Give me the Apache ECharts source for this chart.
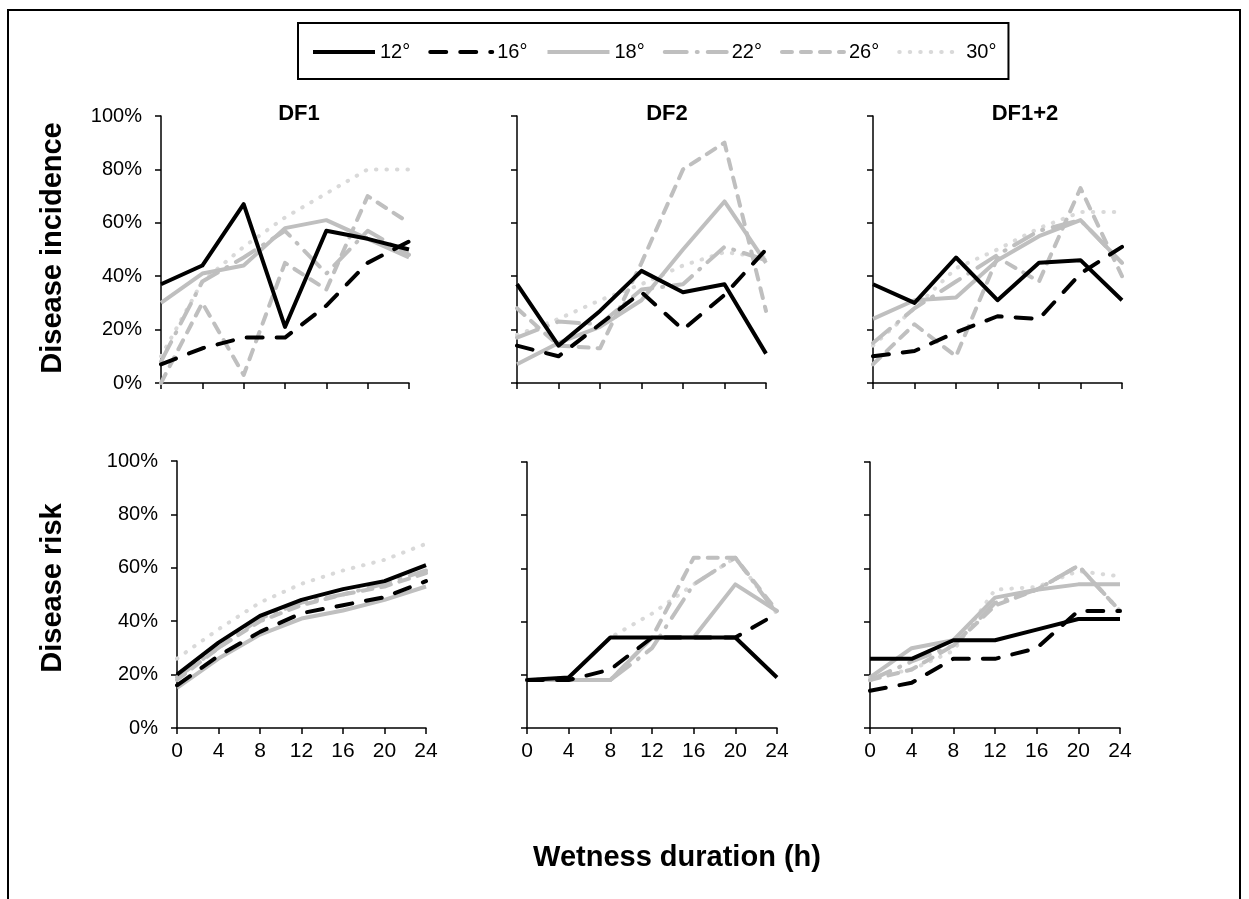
<!DOCTYPE html>
<html>
<head>
<meta charset="utf-8">
<script src="https://cdn.jsdelivr.net/npm/echarts@6/dist/echarts.min.js"></script>
<style>
html,body{margin:0;padding:0;background:#fff;}
#chart{width:1249px;height:899px;}
</style>
</head>
<body>
<div id="chart"></div>
<script>
// Wetness duration (h)
const hours = [0, 4, 8, 12, 16, 20, 24];
const temps = ['12°', '16°', '18°', '22°', '26°', '30°'];
const yTicks = [0, 20, 40, 60, 80, 100];
const panelTitles = ['DF1', 'DF2', 'DF1+2'];

// Disease incidence (%)
const incDF1_12 = [37, 44, 67, 21, 57, 54, 50];
const incDF1_16 = [7, 13, 17, 17, 29, 45, 53];
const incDF1_18 = [30, 41, 44, 58, 61, 54, 47];
const incDF1_22 = [8, 38, 47, 57, 41, 57, 48];
const incDF1_26 = [0, 30, 3, 45, 35, 70, 60];
const incDF1_30 = [10, 38, 51, 62, 71, 80, 80];

const incDF2_12 = [37, 14, 27, 42, 34, 37, 11];
const incDF2_16 = [14, 10, 22, 34, 20, 33, 50];
const incDF2_18 = [7, 15, 21, 31, 50, 68, 45];
const incDF2_22 = [17, 23, 22, 35, 37, 51, 46];
const incDF2_26 = [28, 14, 13, 45, 80, 90, 27];
const incDF2_30 = [18, 24, 31, 37, 44, 49, 47];

const incDF12_12 = [37, 30, 47, 31, 45, 46, 31];
const incDF12_16 = [10, 12, 19, 25, 24, 41, 51];
const incDF12_18 = [24, 31, 32, 46, 55, 61, 45];
const incDF12_22 = [15, 28, 38, 48, 57, 61, 45];
const incDF12_26 = [7, 22, 10, 47, 38, 73, 40];
const incDF12_30 = [14, 28, 43, 50, 58, 64, 64];

// Disease risk (%)
const riskDF1_12 = [20, 32, 42, 48, 52, 55, 61];
const riskDF1_16 = [16, 27, 36, 43, 46, 49, 55];
const riskDF1_18 = [15, 26, 35, 41, 44, 48, 53];
const riskDF1_22 = [19, 30, 41, 47, 50, 54, 59];
const riskDF1_26 = [18, 30, 40, 46, 50, 53, 58];
const riskDF1_30 = [26, 37, 47, 54, 59, 63, 69];

const riskDF2_12 = [18, 19, 34, 34, 34, 34, 19];
const riskDF2_16 = [18, 18, 22, 34, 34, 34, 43];
const riskDF2_18 = [18, 18, 18, 34, 34, 54, 44];
const riskDF2_22 = [18, 18, 18, 30, 54, 64, 43];
const riskDF2_26 = [18, 18, 18, 34, 64, 64, 44];
const riskDF2_30 = [18, 19, 34, 43, 54, 64, 43];

const riskDF12_12 = [26, 26, 33, 33, 37, 41, 41];
const riskDF12_16 = [14, 17, 26, 26, 30, 44, 44];
const riskDF12_18 = [19, 30, 33, 49, 52, 54, 54];
const riskDF12_22 = [18, 25, 31, 47, 52, 61, 44];
const riskDF12_26 = [18, 22, 31, 46, 52, 61, 44];
const riskDF12_30 = [19, 22, 29, 52, 53, 59, 57];

const panels = [
  [incDF1_12, incDF1_16, incDF1_18, incDF1_22, incDF1_26, incDF1_30],
  [incDF2_12, incDF2_16, incDF2_18, incDF2_22, incDF2_26, incDF2_30],
  [incDF12_12, incDF12_16, incDF12_18, incDF12_22, incDF12_26, incDF12_30],
  [riskDF1_12, riskDF1_16, riskDF1_18, riskDF1_22, riskDF1_26, riskDF1_30],
  [riskDF2_12, riskDF2_16, riskDF2_18, riskDF2_22, riskDF2_26, riskDF2_30],
  [riskDF12_12, riskDF12_16, riskDF12_18, riskDF12_22, riskDF12_26, riskDF12_30]
];

const FONT = '"Liberation Sans", Arial, Helvetica, sans-serif';
const styles = [
  {color: '#000000', type: 'solid', cap: 'butt'},
  {color: '#000000', type: [16, 14], cap: 'round'},
  {color: '#BFBFBF', type: 'solid', cap: 'butt'},
  {color: '#BFBFBF', type: [22, 10, 1, 10], cap: 'round'},
  {color: '#BFBFBF', type: [10, 9], cap: 'round'},
  {color: '#D9D9D9', type: [0.5, 10], cap: 'round'}
];

const grids = [
  {left: 161, top: 116, width: 248, height: 267},
  {left: 517, top: 116, width: 249, height: 267},
  {left: 873, top: 116, width: 249, height: 267},
  {left: 177, top: 461, width: 249, height: 267},
  {left: 527, top: 462, width: 250, height: 266},
  {left: 870, top: 462, width: 250, height: 266}
];

const axisCommon = {
  axisLine: {lineStyle: {color: '#000', width: 1.5}},
  axisTick: {lineStyle: {color: '#000', width: 1.5}, length: 6, inside: false},
  splitLine: {show: false}
};

const xAxes = grids.map((g, i) => Object.assign({
  type: 'value', gridIndex: i, min: 0, max: 24, interval: 4,
  axisLabel: {show: i >= 3, fontSize: 21, color: '#000', fontFamily: FONT, margin: 13}
}, axisCommon));

const yAxes = grids.map((g, i) => Object.assign({
  type: 'value', gridIndex: i, min: 0, max: 100, interval: 20,
  axisLabel: {show: i === 0 || i === 3, fontSize: 20, color: '#000', fontFamily: FONT, margin: 19, formatter: '{value}%'}
}, axisCommon));

const series = [];
panels.forEach((pdata, pi) => {
  pdata.forEach((vals, si) => {
    const st = styles[si];
    series.push({
      type: 'line', name: temps[si], xAxisIndex: pi, yAxisIndex: pi,
      symbol: 'none', animation: false,
      data: hours.map((h, k) => [h, vals[k]]),
      lineStyle: {color: st.color, width: 4, type: st.type, cap: st.cap, join: 'round'},
      itemStyle: {color: st.color},
      z: 2 + (5 - si) * 0.01
    });
  });
});

const titles = [
  {text: panelTitles[0], left: 299, top: 103},
  {text: panelTitles[1], left: 667, top: 103},
  {text: panelTitles[2], left: 1025, top: 103}
].map(t => ({
  text: t.text, left: t.left, top: t.top, textAlign: 'center', padding: 0,
  textStyle: {fontSize: 22, fontWeight: 'bold', color: '#000', fontFamily: FONT}
}));

const option = {
  backgroundColor: '#fff',
  animation: false,
  title: titles,
  legend: {
    data: temps,
    left: 298, top: 23,
    padding: [19, 12, 17, 13],
    itemWidth: 62, itemHeight: 14, itemGap: 18,
    borderColor: '#000', borderWidth: 2,
    lineStyle: {width: 4},
    itemStyle: {opacity: 0, color: 'rgba(0,0,0,0)', borderWidth: 0},
    textStyle: {fontSize: 20, color: '#000', fontFamily: FONT},
    selectedMode: false
  },
  grid: grids,
  xAxis: xAxes,
  yAxis: yAxes,
  series: series,
  graphic: [
    {type: 'rect', shape: {x: 8, y: 10, width: 1232, height: 900}, style: {fill: 'none', stroke: '#000', lineWidth: 2}, silent: true, z: -1},
    {type: 'text', x: 53, y: 248, rotation: Math.PI / 2,
      style: {text: 'Disease incidence', fontSize: 29, fontWeight: 'bold', fill: '#000', fontFamily: FONT, align: 'center', verticalAlign: 'middle'}},
    {type: 'text', x: 53, y: 588, rotation: Math.PI / 2,
      style: {text: 'Disease risk', fontSize: 29, fontWeight: 'bold', fill: '#000', fontFamily: FONT, align: 'center', verticalAlign: 'middle'}},
    {type: 'text', x: 677, y: 858,
      style: {text: 'Wetness duration (h)', fontSize: 29, fontWeight: 'bold', fill: '#000', fontFamily: FONT, align: 'center', verticalAlign: 'middle'}}
  ]
};

const chart = echarts.init(document.getElementById('chart'), null, {renderer: 'canvas'});
chart.setOption(option);
</script>
</body>
</html>
